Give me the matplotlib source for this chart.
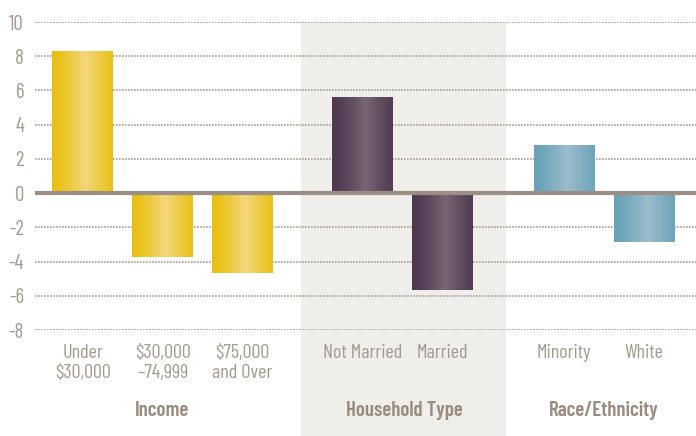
import numpy as np
import matplotlib
matplotlib.use("Agg")
import matplotlib.pyplot as plt
from matplotlib.colors import to_rgb
from matplotlib.patches import Rectangle
from matplotlib.transforms import blended_transform_factory

plt.rcParams['font.family'] = ['Barlow Condensed', 'DejaVu Sans']
plt.rcParams['axes.unicode_minus'] = False

categories = ['Under\n$30,000', '$30,000\n\u201374,999', '$75,000\nand Over',
              'Not Married', 'Married', 'Minority', 'White']
values = [8.25, -3.75, -4.65, 5.6, -5.65, 2.8, -2.85]
groups = ['Income', 'Household Type', 'Race/Ethnicity']
group_of = [0, 0, 0, 1, 1, 2, 2]
xpos = [0, 1, 2, 3.5, 4.5, 6.02, 7.02]
yticks = [-8, -6, -4, -2, 0, 2, 4, 6, 8, 10]

# edge colour, centre colour per group
palette = [('#e8bf0c', '#f3d77e'), ('#4d3850', '#766673'), ('#68a2b8', '#9dbdcc')]
txt_col = '#a59a8e'
grp_col = '#998c7f'

fig = plt.figure(figsize=(6.96, 4.36), dpi=100)
ax = fig.add_axes([0.0503, 0.2431, 0.9497, 0.7064])

xmin, xmax = -0.594, 7.67
ax.set_xlim(xmin, xmax)
ax.set_ylim(-8, 10)

# shaded household band, runs down into the label area
trans = blended_transform_factory(ax.transData, ax.transAxes)
ax.add_patch(Rectangle((2.73, -0.345), 2.56, 1.345, transform=trans,
                       facecolor='#efeeea', edgecolor='none', clip_on=False, zorder=0))

for y in yticks:
    if y == 0:
        continue
    ax.axhline(y, color='#a89e94', lw=1.2, ls=(0, (1, 0.8)), zorder=1)

w = 61 / 80
u = np.linspace(0, 1, 200)
prof = 1 - np.abs(u - 0.55) / 0.55
prof = np.clip(prof, 0, 1) ** 1.3
for x, v, g in zip(xpos, values, group_of):
    e, c = np.array(to_rgb(palette[g][0])), np.array(to_rgb(palette[g][1]))
    img = e[None, :] + (c - e)[None, :] * prof[:, None]
    img = img[None, :, :]
    lo, hi = min(0, v), max(0, v)
    ax.imshow(img, extent=[x - w / 2, x + w / 2, lo, hi], aspect='auto',
              interpolation='bilinear', zorder=2)

ax.axhline(0, color='#9b8f85', lw=3, zorder=3)
ax.set_xlim(xmin, xmax)
ax.set_ylim(-8, 10)

ax.set_yticks(yticks)
ax.set_yticklabels([str(t) for t in yticks], fontsize=15, color=txt_col)
ax.tick_params(axis='both', length=0)
ax.tick_params(axis='y', pad=8)
ax.set_xticks([])
for s in ax.spines.values():
    s.set_visible(False)
ax.set_facecolor('none')

# category labels, one line at a time (pixel rows 353 / 373 below a 308 px axes)
for x, lab in zip(xpos, categories):
    for i, line in enumerate(lab.split('\n')):
        ax.text(x, (330 - 353 - 20 * i) / 308, line, transform=trans,
                ha='center', va='center', fontsize=14.5, color=txt_col)

grp_x = [1, 4.02, 6.52]
for gx, name in zip(grp_x, groups):
    ax.text(gx, (330 - 410) / 308, name, transform=trans, ha='center', va='center',
            fontsize=15, fontweight='semibold', color=grp_col)

fig.savefig('out.png', dpi=100)
